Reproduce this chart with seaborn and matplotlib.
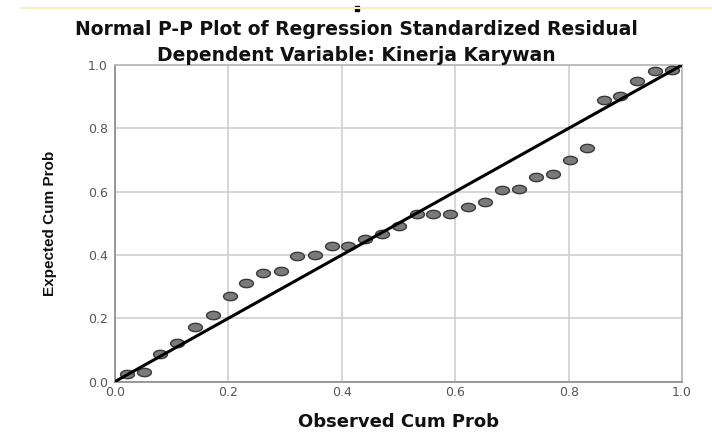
import numpy as np
import pandas as pd
import matplotlib
matplotlib.use("Agg")
import matplotlib.pyplot as plt
from matplotlib.lines import Line2D
from matplotlib.patches import Rectangle
import seaborn as sns

# valores (P-P plot, 33 residuos)
observed = [0.021, 0.051, 0.079, 0.110, 0.141, 0.172, 0.202, 0.231, 0.261, 0.292,
            0.321, 0.352, 0.382, 0.411, 0.441, 0.471, 0.501, 0.532, 0.561, 0.591,
            0.622, 0.653, 0.683, 0.713, 0.742, 0.772, 0.802, 0.832, 0.862, 0.891,
            0.921, 0.952, 0.983]
expected = [0.023, 0.031, 0.086, 0.121, 0.173, 0.211, 0.269, 0.310, 0.343, 0.350,
            0.398, 0.401, 0.428, 0.428, 0.450, 0.465, 0.492, 0.528, 0.529, 0.529,
            0.552, 0.566, 0.606, 0.607, 0.647, 0.655, 0.701, 0.737, 0.890, 0.902,
            0.949, 0.981, 0.985]
ref_line = [0.0, 1.0]
ticks = [0.0, 0.2, 0.4, 0.6, 0.8, 1.0]
tick_labels = ["0.0", "0.2", "0.4", "0.6", "0.8", "1.0"]

df = pd.DataFrame({"obs": observed, "exp": expected})

sns.set_style("white")
plt.rcParams["font.family"] = ["DejaVu Sans"]
plt.rcParams["text.color"] = "#111111"
plt.rcParams["axes.labelcolor"] = "#111111"

fig = plt.figure(figsize=(7.12, 4.32), dpi=100)
ax = fig.add_axes([0.1615, 0.1167, 0.7965, 0.7328])

# marcador eliptico (la imagen original esta estirada)
t = np.linspace(0, 2 * np.pi, 40)
ellipse = np.column_stack([np.cos(t), 0.6 * np.sin(t)])

sns.scatterplot(data=df, x="obs", y="exp", ax=ax, marker=ellipse, s=100,
                color="#7a7a7a", edgecolor="#3a3a3a", linewidth=1.0, zorder=3)
sns.lineplot(x=ref_line, y=ref_line, ax=ax, color="black", lw=2.2, zorder=4)

ax.set_xlim(0, 1)
ax.set_ylim(0, 1)
ax.set_xticks(ticks, labels=tick_labels)
ax.set_yticks(ticks, labels=tick_labels)
ax.grid(True, color="#d2d2d2", lw=1.3)
ax.set_axisbelow(True)
for s in ax.spines.values():
    s.set_color("#b5b5b5")
    s.set_linewidth(1.2)
ax.spines["left"].set_color("#8a8a8a")
ax.spines["bottom"].set_color("#8a8a8a")
ax.tick_params(axis="y", length=3, width=1, color="#8a8a8a", pad=2,
               labelsize=9, labelcolor="#555555")
ax.tick_params(axis="x", length=0, pad=3, labelsize=9, labelcolor="#555555")

ax.set_xlabel("Observed Cum Prob", fontsize=13, fontweight="bold", labelpad=10)
ax.set_ylabel("Expected Cum Prob", fontsize=11, fontweight="bold", labelpad=22,
              family="Liberation Sans")

fig.text(0.5, 0.932, "Normal P-P Plot of Regression Standardized Residual",
         ha="center", va="center", fontsize=13.5, fontweight="bold")
fig.text(0.5, 0.872, "Dependent Variable: Kinerja Karywan",
         ha="center", va="center", fontsize=13.5, fontweight="bold")

# linea amarilla y cuadrito del borde superior de la captura
fig.add_artist(Line2D([0.03, 1.0], [0.982, 0.982], color="#f3eec0", lw=1.5))
fig.add_artist(Rectangle((0.498, 0.975), 0.006, 0.011, color="black"))

fig.savefig("out.png", dpi=100)
